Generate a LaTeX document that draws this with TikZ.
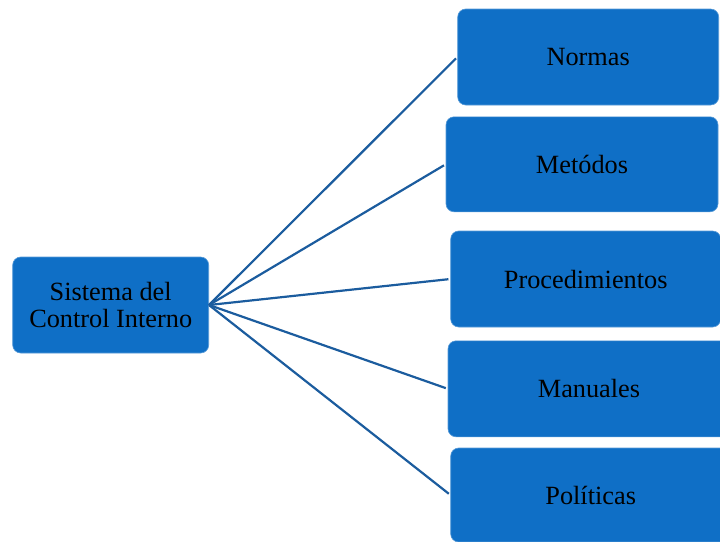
\documentclass[tikz,border=0pt]{standalone}
\usepackage{fontspec}
\setmainfont{Liberation Serif}
\definecolor{boxblue}{HTML}{0F6FC6}
\definecolor{linkblue}{HTML}{1B5C9E}
\begin{document}
\begin{tikzpicture}[x=1pt,y=-1pt,
  itembox/.style={draw=boxblue!70!white, line width=0.6pt, fill=boxblue, rounded corners=8pt,
    inner sep=0pt, align=center, text=black,
    font=\fontsize{26.3}{27}\selectfont},
  link/.style={draw=linkblue, line width=2.2pt}]
\useasboundingbox (0,0) rectangle (720,541);
\clip (0,0) rectangle (720,541);

% central box
\node[itembox, minimum width=196pt, minimum height=96pt] (hub) at (110.7,305)
  {Sistema del\\Control Interno};

% right-hand boxes
\node[itembox, minimum width=261pt, minimum height=96pt] (n1) at (588.2,57) {Normas};
\node[itembox, minimum width=272pt, minimum height=95pt] (n2) at (582,164.3) {Metódos};
\node[itembox, minimum width=270pt, minimum height=96pt] (n3) at (585.7,279) {Procedimientos};
\node[itembox, minimum width=282pt, minimum height=96pt] (n4) at (589,388.8) {Manuales};
\node[itembox, minimum width=280pt, minimum height=94pt] (n5) at (590.7,495) {Políticas};

% connectors
\foreach \t in {n1,n2,n3,n4,n5}
  \draw[link, shorten >=2pt] (hub.east) -- (\t.west);
\end{tikzpicture}
\end{document}
